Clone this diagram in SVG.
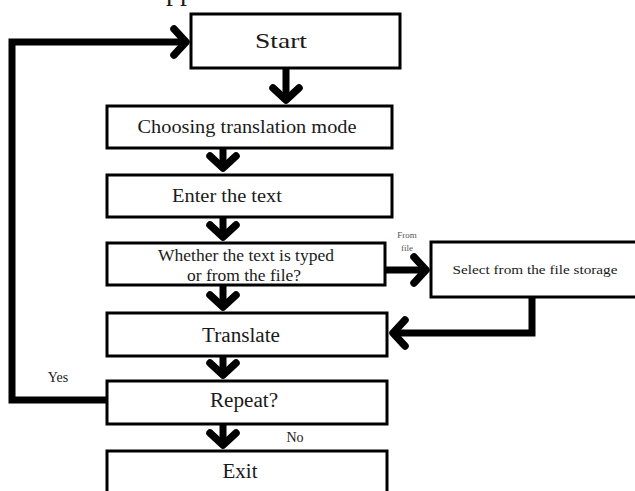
<svg xmlns="http://www.w3.org/2000/svg" width="635" height="491" viewBox="0 0 635 491">
<style>
.box{fill:#fff;stroke:#000;stroke-width:3}
.t{font-family:"Liberation Serif","Times New Roman",serif;fill:#1a1a1a;text-anchor:middle}
.c{fill:none;stroke:#000;stroke-width:7;stroke-linejoin:miter}
.s{font-family:"Liberation Serif","Times New Roman",serif;fill:#555;text-anchor:middle;font-size:9px}
</style>
<defs>
<marker id="ah" viewBox="-20 -20 40 40" markerWidth="40" markerHeight="40" refX="0" refY="0" markerUnits="userSpaceOnUse" orient="auto" overflow="visible">
<path d="M-12,-13 L0,0 L-12,13" fill="none" stroke="#000" stroke-width="7.5" stroke-linecap="round" stroke-linejoin="round"/>
</marker>
</defs>
<rect width="635" height="491" fill="#fff"/>
<text class="t" x="180" y="0" font-size="28" text-anchor="start">pp</text>
<g id="connectors">
<path class="c" d="M286 68 V100" marker-end="url(#ah)"/>
<path class="c" d="M223 148 V168" marker-end="url(#ah)"/>
<path class="c" d="M223 217 V237" marker-end="url(#ah)"/>
<path class="c" d="M223 285 V307" marker-end="url(#ah)"/>
<path class="c" d="M223 356 V375" marker-end="url(#ah)"/>
<path class="c" d="M223 424 V445" marker-end="url(#ah)"/>
<path class="c" d="M385 270 H426" marker-end="url(#ah)"/>
<path class="c" d="M532 297 V333 H393" marker-end="url(#ah)"/>
<path class="c" d="M106 400 H12 V42 H186" marker-end="url(#ah)"/>
<text class="s" x="407" y="238">From</text>
<text class="s" x="407" y="251">file</text>
<text class="t" x="58" y="382" font-size="14">Yes</text>
<text class="t" x="295" y="442" font-size="14">No</text>
</g>
<g id="start">
<rect class="box" x="191" y="14" width="209" height="54"/>
<text class="t" x="281" y="48" font-size="22" textLength="52" lengthAdjust="spacingAndGlyphs">Start</text>
</g>
<g id="choose">
<rect class="box" x="107" y="106" width="285" height="42"/>
<text class="t" x="247" y="133" font-size="18" textLength="219" lengthAdjust="spacingAndGlyphs">Choosing translation mode</text>
</g>
<g id="enter">
<rect class="box" x="107" y="175" width="285" height="42"/>
<text class="t" x="227" y="202" font-size="18" textLength="110" lengthAdjust="spacingAndGlyphs">Enter the text</text>
</g>
<g id="whether">
<rect class="box" x="107" y="243" width="278" height="42"/>
<text class="t" x="246" y="261" font-size="16.5" textLength="176" lengthAdjust="spacingAndGlyphs">Whether the text is typed</text>
<text class="t" x="244" y="281" font-size="16.5" textLength="114" lengthAdjust="spacingAndGlyphs">or from the file?</text>
</g>
<g id="select">
<rect class="box" x="431" y="242" width="210" height="55" stroke-width="2.5"/>
<text class="t" x="535" y="274" font-size="12.5" textLength="165" lengthAdjust="spacingAndGlyphs">Select from the file storage</text>
</g>
<g id="translate">
<rect class="box" x="107" y="313" width="280" height="43"/>
<text class="t" x="241" y="342" font-size="20" textLength="78" lengthAdjust="spacingAndGlyphs">Translate</text>
</g>
<g id="repeat">
<rect class="box" x="107" y="381" width="280" height="43"/>
<text class="t" x="244" y="407" font-size="20" textLength="68" lengthAdjust="spacingAndGlyphs">Repeat?</text>
</g>
<g id="exit">
<rect class="box" x="107" y="451" width="280" height="50"/>
<text class="t" x="240" y="478" font-size="20" textLength="35" lengthAdjust="spacingAndGlyphs">Exit</text>
</g>
</svg>
